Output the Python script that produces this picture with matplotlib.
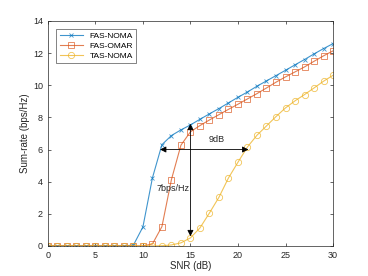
import matplotlib
matplotlib.use('Agg')
import matplotlib.pyplot as plt
import numpy as np

# data
snr = np.arange(0, 31)
fas_noma = [0, 0, 0, 0, 0, 0, 0, 0, 0, 0.05, 1.18, 4.23, 6.3, 6.87, 7.22, 7.53,
            7.88, 8.22, 8.55, 8.9, 9.25, 9.58, 9.94, 10.27, 10.6, 10.93, 11.27,
            11.6, 11.95, 12.28, 12.59]
fas_omar = [0, 0, 0, 0, 0, 0, 0, 0, 0, 0, 0, 0.12, 1.2, 4.13, 6.27, 7.1, 7.49,
            7.84, 8.17, 8.5, 8.82, 9.15, 9.48, 9.83, 10.19, 10.52, 10.83, 11.14,
            11.49, 11.83, 12.14]
tas_noma = [0, 0, 0, 0, 0, 0, 0, 0, 0, 0, 0, 0, 0.01, 0.06, 0.19, 0.5, 1.12,
            2.05, 3.03, 4.23, 5.21, 6.16, 6.89, 7.47, 8.05, 8.59, 9.03, 9.42,
            9.83, 10.25, 10.62]

c_blue = '#0072BD'
c_orange = '#D95319'
c_yellow = '#EDB120'

plt.rcParams['font.family'] = 'Liberation Sans'

fig = plt.figure(figsize=(3.68, 2.76), dpi=100)
ax = fig.add_axes([0.130, 0.109, 0.775, 0.815])

ax.plot(snr, fas_noma, color=c_blue, marker='x', markersize=3.5, lw=0.8,
        mew=0.6, label='FAS-NOMA', alpha=0.75)
ax.plot(snr, fas_omar, color=c_orange, marker='s', markersize=4, lw=0.8,
        mew=0.6, mfc='none', label='FAS-OMAR', alpha=0.75)
ax.plot(snr, tas_noma, color=c_yellow, marker='o', markersize=4.5, lw=0.8,
        mew=0.6, mfc='none', label='TAS-NOMA', alpha=0.75)

# gap arrows
ax.annotate('', xy=(11.8, 6.0), xytext=(21.1, 6.0),
            arrowprops=dict(arrowstyle='<|-|>', color='black', lw=0.6,
                            mutation_scale=9, shrinkA=0, shrinkB=0))
ax.annotate('', xy=(15, 7.6), xytext=(15, 0.6),
            arrowprops=dict(arrowstyle='<|-|>', color='black', lw=0.6,
                            mutation_scale=9, shrinkA=0, shrinkB=0))
ax.text(17.8, 6.6, '9dB', fontsize=6.5, ha='center', va='center', color='#262626')
ax.text(13.2, 3.57, '7bps/Hz', fontsize=6.5, ha='center', va='center', color='#262626')

ax.set_xlim(0, 30)
ax.set_ylim(0, 14)
ax.set_xticks(np.arange(0, 31, 5))
ax.set_yticks(np.arange(0, 15, 2))
ax.tick_params(direction='in', top=True, right=True, labelsize=6.5,
               colors='#262626', length=2.5, width=0.5)
for s in ax.spines.values():
    s.set_linewidth(0.5)
    s.set_color('#262626')

ax.set_xlabel('SNR (dB)', fontsize=7, color='#262626', labelpad=1)
ax.set_ylabel('Sum-rate (bps/Hz)', fontsize=7, color='#262626', labelpad=2)

leg = ax.legend(loc='upper left', fontsize=6, frameon=True, fancybox=False,
                edgecolor='#262626', handlelength=2.8, borderpad=0.4,
                labelspacing=0.25, bbox_to_anchor=(0.015, 0.985))
leg.get_frame().set_linewidth(0.5)

fig.savefig('out.png', dpi=100)
